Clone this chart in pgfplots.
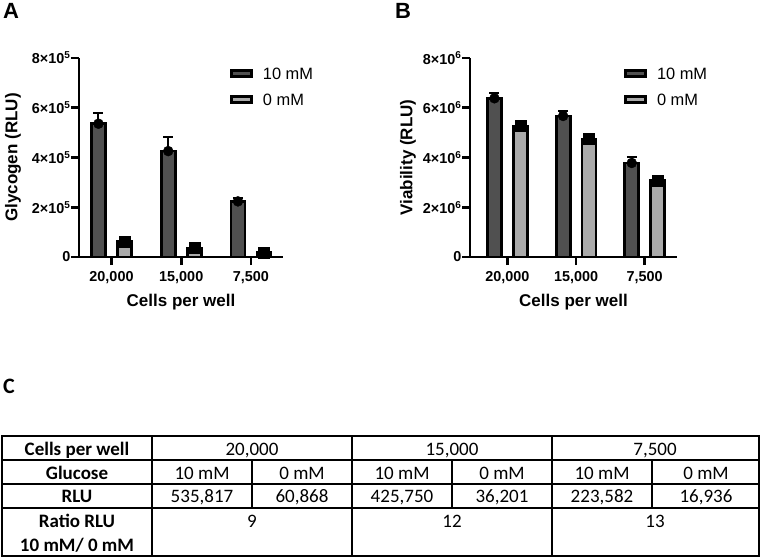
\documentclass[border=0pt]{standalone}
\usepackage{fontspec}
\setmainfont{Liberation Sans}
\newfontfamily\calfont{Carlito}
\usepackage{pgfplots}
\pgfplotsset{compat=1.18}
\definecolor{darkbar}{RGB}{80,80,80}
\definecolor{lightbar}{RGB}{170,170,170}

\pgfplotsset{
  panel/.style={
    scale only axis,
    anchor=south west,
    height=199pt,
    ymin=0,
    clip=false,
    axis lines=left,
    axis line style={-, line width=2.8pt},
    every tick/.style={black, line width=2.8pt},
    major tick length=8pt,
    tick align=outside,
    xtick={0,1,2},
    xticklabels={{20,000},{15,000},{7,500}},
    scaled y ticks=false,
    ticklabel style={font=\fontsize{14.4}{16}\selectfont\bfseries},
    xticklabel style={yshift=-3pt},
    yticklabel style={xshift=3pt},
    xlabel={Cells per well},
    label style={font=\fontsize{17}{19}\selectfont\bfseries},
    xlabel style={at={(axis description cs:0.5,-0.226)}, anchor=center},
    legend style={draw=none, fill=none, anchor=north west, inner sep=0pt,
      row sep=9pt, font=\fontsize{16.4}{18}\selectfont,
      /tikz/every odd column/.append style={column sep=8pt}},
    legend cell align=left,
  },
  boxlegend/.style={legend image code/.code={\draw[line width=2.8pt, ##1] (0pt,-2.6pt) rectangle (20pt,3.8pt);}},
  darkb/.style={ybar, bar width=14pt, bar shift=0pt, fill=darkbar, draw=black, line width=2.8pt, boxlegend},
  lightb/.style={ybar, bar width=14pt, bar shift=0pt, fill=lightbar, draw=black, line width=2.8pt, boxlegend},
  errc/.style={forget plot, only marks, mark=*, mark size=5pt, black,
    error bars/.cd, y dir=plus, y explicit,
    error bar style={line width=2pt, black},
    error mark options={rotate=90, mark size=5pt, line width=2pt, black}},
  errs/.style={forget plot, only marks, mark=square*, mark size=5.5pt, black,
    error bars/.cd, y dir=plus, y explicit,
    error bar style={line width=2pt, black},
    error mark options={rotate=90, mark size=5pt, line width=2pt, black}},
}

\begin{document}
\begin{tikzpicture}
\path[use as bounding box] (0pt,0pt) rectangle (762pt,-559pt);

% Panel A
\begin{axis}[panel,
  at={(79pt,-257pt)}, width=204pt,
  xmin=-0.466, xmax=2.459, ymax=800000,
  ytick={0,200000,400000,600000,800000},
  yticklabels={0,{2×10\textsuperscript{5}},{4×10\textsuperscript{5}},{6×10\textsuperscript{5}},{8×10\textsuperscript{5}}},
  ylabel={Glycogen (RLU)},
  ylabel style={at={(axis description cs:-0.324,0.5)}, anchor=center},
  legend style={at={(axis description cs:0.74,0.962)}},
]
\addplot[darkb] table[x=x, y=y] {
x y
-0.187 535817
0.813 425750
1.813 223582
};
\addlegendentry{10 mM}
\addplot[lightb] table[x=x, y=y] {
x y
0.187 60868
1.187 36201
2.187 16936
};
\addlegendentry{0 mM}
\addplot[errc] table[x=x, y=y, y error=e] {
x y e
-0.187 535817 43000
0.813 425750 56000
1.813 223582 14000
};
\addplot[errs] table[x=x, y=y, y error=e] {
x y e
0.187 60868 6000
1.187 36201 6000
2.187 16936 4000
};
\end{axis}

% Panel B
\begin{axis}[panel,
  at={(470pt,-257pt)}, width=207pt,
  xmin=-0.545, xmax=2.47, ymax=8000000,
  ytick={0,2000000,4000000,6000000,8000000},
  yticklabels={0,{2×10\textsuperscript{6}},{4×10\textsuperscript{6}},{6×10\textsuperscript{6}},{8×10\textsuperscript{6}}},
  ylabel={Viability (RLU)},
  ylabel style={at={(axis description cs:-0.30,0.5)}, anchor=center},
  legend style={at={(axis description cs:0.744,0.962)}},
]
\addplot[darkb] table[x=x, y=y] {
x y
-0.189 6380000
0.811 5670000
1.811 3780000
};
\addlegendentry{10 mM}
\addplot[lightb] table[x=x, y=y] {
x y
0.189 5270000
1.189 4740000
2.189 3060000
};
\addlegendentry{0 mM}
\addplot[errc] table[x=x, y=y, y error=e] {
x y e
-0.189 6380000 210000
0.811 5670000 200000
1.811 3780000 240000
};
\addplot[errs] table[x=x, y=y, y error=e] {
x y e
0.189 5270000 100000
1.189 4740000 100000
2.189 3060000 100000
};
\end{axis}

% Panel letters
\node[anchor=base west, inner sep=0pt, font=\fontsize{22}{24}\selectfont\bfseries] at (3pt,-19pt) {A};
\node[anchor=base west, inner sep=0pt, font=\fontsize{22}{24}\selectfont\bfseries] at (395pt,-19pt) {B};
\node[anchor=base west, inner sep=0pt, font=\calfont\fontsize{22}{24}\selectfont\bfseries] at (3pt,-393pt) {C};

% Table C
\begin{scope}[line width=2pt]
\draw (2pt,-436pt) rectangle (759pt,-556pt);
\foreach \y in {460,484,508} \draw (2pt,-\y pt) -- (759pt,-\y pt);
\foreach \x in {152,352,552} \draw (\x pt,-436pt) -- (\x pt,-556pt);
\foreach \x in {252,452,652} \draw (\x pt,-460pt) -- (\x pt,-508pt);
\end{scope}
\begin{scope}[every node/.style={anchor=base, inner sep=0pt, font=\calfont\fontsize{19}{21}\selectfont}]
\node[font=\calfont\fontsize{19}{21}\selectfont\bfseries] at (77pt,-455pt) {Cells per well};
\node at (252pt,-455pt) {20,000};
\node at (452pt,-455pt) {15,000};
\node at (655pt,-455pt) {7,500};
\node[font=\calfont\fontsize{19}{21}\selectfont\bfseries] at (77pt,-479pt) {Glucose};
\node at (202pt,-479pt) {10 mM};
\node at (302pt,-479pt) {0 mM};
\node at (402pt,-479pt) {10 mM};
\node at (502pt,-479pt) {0 mM};
\node at (602pt,-479pt) {10 mM};
\node at (706pt,-479pt) {0 mM};
\node[font=\calfont\fontsize{19}{21}\selectfont\bfseries] at (77pt,-502pt) {RLU};
\node at (202pt,-502pt) {535,817};
\node at (302pt,-502pt) {60,868};
\node at (402pt,-502pt) {425,750};
\node at (502pt,-502pt) {36,201};
\node at (602pt,-502pt) {223,582};
\node at (706pt,-502pt) {16,936};
\node[font=\calfont\fontsize{19}{21}\selectfont\bfseries] at (77pt,-527pt) {Ratio RLU};
\node[font=\calfont\fontsize{19}{21}\selectfont\bfseries] at (77pt,-551pt) {10 mM/ 0 mM};
\node at (252pt,-527pt) {9};
\node at (452pt,-527pt) {12};
\node at (655pt,-527pt) {13};
\end{scope}
\end{tikzpicture}
\end{document}
